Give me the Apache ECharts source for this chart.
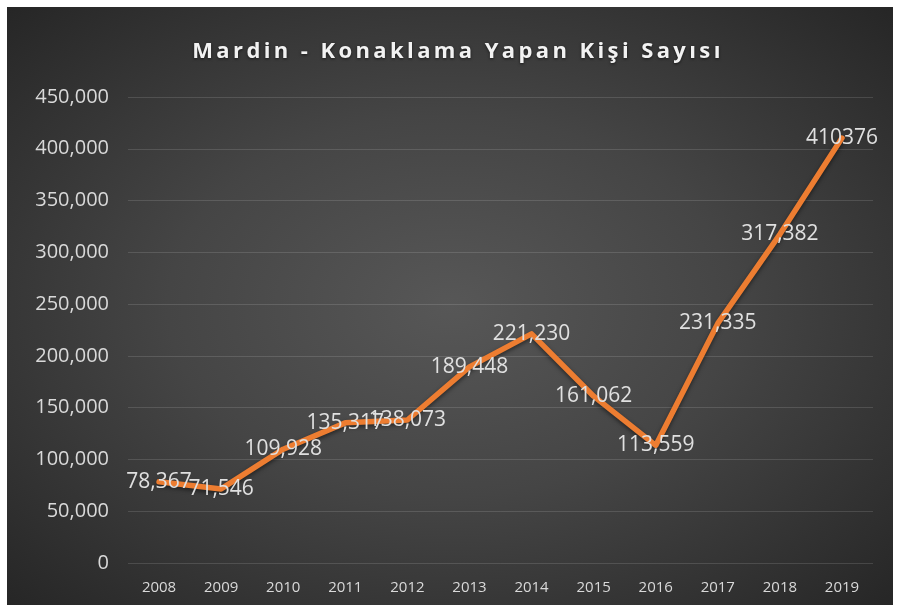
<!DOCTYPE html>
<html>
<head>
<meta charset="utf-8">
<script src="https://cdn.jsdelivr.net/npm/echarts@6/dist/echarts.min.js"></script>
<style>
body { margin: 0; background: #fff; }
#wrap {
  position: absolute; left: 7px; top: 7px; width: 886px; height: 598px;
  background: radial-gradient(ellipse at 50% 50%, #575757 0%, #454545 45%, #262626 100%);
}
#chart-container { position: absolute; left: 0; top: 0; width: 886px; height: 598px; }
#title {
  position: absolute; left: 8px; top: 27px; width: 886px; text-align: center;
  color: #f2f2f2; font: bold 22px "Open Sans", "Noto Sans", sans-serif;
  letter-spacing: 3.4px; text-shadow: 0 1px 3px rgba(0,0,0,0.6);
  z-index: 2;
}
</style>
</head>
<body>
<div id="wrap">
  <div id="chart-container"></div>
  <div id="title"></div>
</div>
<script>
var years = ['2008', '2009', '2010', '2011', '2012', '2013', '2014', '2015', '2016', '2017', '2018', '2019'];
var visitors = [78367, 71546, 109928, 135317, 138073, 189448, 221230, 161062, 113559, 231335, 317382, 410376];
var titleText = 'Mardin - Konaklama Yapan Kişi Sayısı';

document.getElementById('title').textContent = titleText;

var dom = document.getElementById('chart-container');
var myChart = echarts.init(dom, null, { renderer: 'canvas' });

var font = '"Open Sans", "Noto Sans", sans-serif';

var option = {
  grid: { left: 121, right: 20, top: 90, bottom: 42 },
  xAxis: {
    type: 'category',
    data: years,
    axisLine: { show: false },
    axisTick: { show: false },
    axisLabel: { color: '#d9d9d9', fontSize: 15, fontFamily: font, margin: 17 }
  },
  yAxis: {
    type: 'value',
    min: 0,
    max: 450000,
    interval: 50000,
    axisLine: { show: false },
    axisTick: { show: false },
    splitLine: { lineStyle: { color: 'rgba(255,255,255,0.13)', width: 1 } },
    axisLabel: {
      color: '#d9d9d9',
      fontSize: 20,
      fontFamily: font,
      margin: 19,
      formatter: function (v) { return v.toLocaleString('en-US'); }
    }
  },
  series: [{
    type: 'line',
    data: visitors,
    symbol: 'circle',
    symbolSize: 1,
    itemStyle: { color: 'rgba(237,125,49,0)' },
    lineStyle: {
      color: '#ED7D31',
      width: 5.5,
      cap: 'round',
      join: 'round',
      shadowColor: 'rgba(0,0,0,0.5)',
      shadowBlur: 4,
      shadowOffsetY: 2
    },
    label: {
      show: true,
      position: 'inside',
      color: '#e0e0e0',
      fontSize: 21,
      fontFamily: font,
      formatter: function (p) {
        return p.dataIndex === visitors.length - 1 ? String(p.value) : p.value.toLocaleString('en-US');
      }
    },
    labelLayout: { hideOverlap: false }
  }]
};

myChart.setOption(option);
window.addEventListener('resize', myChart.resize);
</script>
</body>
</html>
